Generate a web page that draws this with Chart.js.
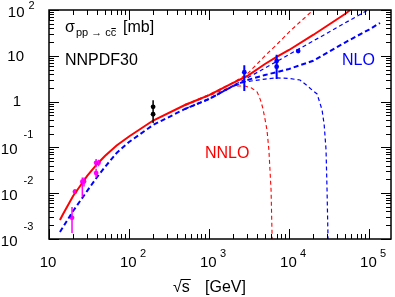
<!DOCTYPE html>
<html>
<head>
<meta charset="utf-8">
<script src="https://cdn.jsdelivr.net/npm/chart.js"></script>
<style>
body { margin: 0; background: #fff; }
canvas { display: block; }
</style>
</head>
<body>
<canvas id="chart" width="395" height="297"></canvas>
<script>
// NNLO central curve (solid red) and its scale band (thin red dashed)
var nnloX = [13.7, 15, 20, 25, 30, 40, 50, 70, 100, 200, 500, 1000, 2000, 3000, 5000, 7000, 10000, 20000, 50000, 58000, 70000];
var nnloY = [0.0026, 0.0035, 0.0087, 0.0151, 0.0238, 0.0435, 0.0649, 0.110, 0.173, 0.386, 0.843, 1.39, 2.55, 3.62, 6.62, 9.42, 13.4, 28.5, 81.8, 100, 123];
var nnloUpX = [500, 1000, 2000, 3000, 5000, 7000, 10000, 20000, 23000];
var nnloUpY = [0.86, 1.42, 2.6, 4.0, 10.0, 17.5, 33, 100, 128];
var nnloLoX = [500, 1000, 2000, 2800, 3400, 4000, 4400, 4700, 5000, 5300, 5600, 5960, 6150, 6300];
var nnloLoY = [0.82, 1.35, 2.2, 2.19, 1.98, 1.62, 1.08, 0.72, 0.42, 0.24, 0.088, 0.0117, 0.001, 0.0001];

// NLO central curve (thick blue dashed) and its scale band (thin blue dashed)
var nloX = [13.7, 20, 25, 30, 40, 50, 70, 100, 200, 500, 1000, 2000, 3000, 5000, 7000, 10000, 20000, 50000, 100000, 137000];
var nloY = [0.00142, 0.0041, 0.0071, 0.0112, 0.0226, 0.0373, 0.0755, 0.131, 0.309, 0.69, 1.14, 2.19, 2.96, 3.8, 4.4, 5.15, 7.8, 19.5, 37.5, 52];
var nloUpX = [500, 1000, 2000, 3000, 5000, 7000, 10000, 20000, 50000, 97000, 120000];
var nloUpY = [0.70, 1.16, 2.25, 3.27, 5.4, 7.5, 10.7, 21, 52, 100, 124];
var nloLoX = [500, 1000, 2000, 2800, 5000, 7000, 10000, 13700, 17000, 19400, 22400, 25850, 27500, 29000, 29850, 30700, 31500];
var nloLoY = [0.68, 1.12, 2.15, 2.7, 3.1, 3.3, 3.2, 2.96, 2.2, 1.79, 1.47, 0.66, 0.31, 0.088, 0.0117, 0.001, 0.0001];

// measurements: fixed target (magenta), RHIC (black), LHC (blue)
var magX = [19.4, 21.1, 26.1, 27.4, 38.8, 38.8, 41.6];
var magY = [0.0029, 0.0108, 0.0178, 0.018, 0.0275, 0.046, 0.046];
var magLo = [0.00135, 0.0097, 0.0084, 0.014, 0.022, 0.037, 0.039];
var magHi = [0.005, 0.0122, 0.022, 0.022, 0.034, 0.056, 0.054];
var rhicX = [200, 200];
var rhicY = [0.77, 0.53];
var rhicLo = [0.55, 0.34];
var rhicHi = [1.07, 0.72];
var lhcX = [2760, 7000, 7000, 13000];
var lhcY = [4.4, 7.7, 5.8, 12.7];
var lhcLo = [1.7, 5.6, 3.1, 11.8];
var lhcHi = [6.2, 10.5, 8.5, 13.7];

// axis ticks (decade exponents)
var xTickExp = [1, 2, 3, 4, 5];
var yTickExp = [2, 1, 0, -1, -2, -3];

var FONT = '"Liberation Sans", Arial, sans-serif';

function pts(xs, ys) {
	var out = [];
	for (var i = 0; i < xs.length; i++) {
		out.push({ x: xs[i], y: ys[i] });
	}
	return out;
}

function curve(xs, ys, color, width, dash) {
	return {
		type: 'line',
		data: pts(xs, ys),
		borderColor: color,
		borderWidth: width,
		borderDash: dash,
		pointRadius: 0,
		fill: false,
		tension: 0,
		clip: 0
	};
}

function dots(xs, ys, color) {
	return {
		type: 'scatter',
		data: pts(xs, ys),
		backgroundColor: color,
		borderColor: color,
		borderWidth: 0,
		pointRadius: 2.4,
		clip: 0
	};
}

var errSets = [
	{ x: magX, lo: magLo, hi: magHi, color: '#ff00ff', width: 1.5 },
	{ x: rhicX, lo: rhicLo, hi: rhicHi, color: '#000000', width: 1.5 },
	{ x: lhcX, lo: lhcLo, hi: lhcHi, color: '#0000ff', width: 2 }
];

function drawErrors(chart) {
	var ctx = chart.ctx, xs = chart.scales.x, ys = chart.scales.y;
	ctx.save();
	for (var s = 0; s < errSets.length; s++) {
		var e = errSets[s];
		ctx.strokeStyle = e.color;
		ctx.lineWidth = e.width;
		ctx.beginPath();
		for (var i = 0; i < e.x.length; i++) {
			var px = xs.getPixelForValue(e.x[i]);
			ctx.moveTo(px, ys.getPixelForValue(e.lo[i]));
			ctx.lineTo(px, ys.getPixelForValue(e.hi[i]));
		}
		ctx.stroke();
	}
	ctx.restore();
}

function drawFrame(chart) {
	var ctx = chart.ctx, a = chart.chartArea, xs = chart.scales.x, ys = chart.scales.y;
	ctx.save();
	ctx.strokeStyle = '#000';
	ctx.lineWidth = 1;
	ctx.beginPath();
	for (var d = 1; d <= 5; d++) {
		for (var k = 1; k < 10; k++) {
			var v = k * Math.pow(10, d);
			if (v > xs.max) continue;
			var px = Math.round(xs.getPixelForValue(v)) + 0.5;
			var len = k == 1 ? 10 : 5;
			ctx.moveTo(px, a.bottom);
			ctx.lineTo(px, a.bottom - len);
			ctx.moveTo(px, a.top);
			ctx.lineTo(px, a.top + len);
		}
	}
	for (var d = -3; d <= 2; d++) {
		for (var k = 1; k < 10; k++) {
			var v = k * Math.pow(10, d);
			if (v > ys.max * 1.001) continue;
			var py = Math.round(ys.getPixelForValue(v)) + 0.5;
			var len = k == 1 ? 10 : 5;
			ctx.moveTo(a.left, py);
			ctx.lineTo(a.left + len, py);
			ctx.moveTo(a.right, py);
			ctx.lineTo(a.right - len, py);
		}
	}
	ctx.stroke();
	ctx.lineWidth = 1.5;
	ctx.strokeRect(a.left, a.top, a.right - a.left, a.bottom - a.top);
	ctx.restore();
}

function drawLabels(chart) {
	var ctx = chart.ctx, xs = chart.scales.x, ys = chart.scales.y;
	ctx.save();
	ctx.fillStyle = '#000';
	ctx.textBaseline = 'middle';

	// x tick labels
	for (var i = 0; i < xTickExp.length; i++) {
		var e = xTickExp[i];
		var px = xs.getPixelForValue(Math.pow(10, e));
		ctx.font = '15px ' + FONT;
		if (e == 1) {
			ctx.textAlign = 'center';
			ctx.fillText('10', px - 1, 263);
		} else {
			ctx.textAlign = 'left';
			ctx.fillText('10', px - 9, 263);
			ctx.font = '11px ' + FONT;
			ctx.fillText(String(e), px + 11, 254);
		}
	}

	// y tick labels
	for (var i = 0; i < yTickExp.length; i++) {
		var e = yTickExp[i];
		var py = ys.getPixelForValue(Math.pow(10, e));
		ctx.font = '15px ' + FONT;
		ctx.textAlign = 'right';
		if (e == 0) {
			ctx.fillText('1', 21, py + 0.5);
		} else if (e == 1) {
			ctx.fillText('10', 24, py + 1.5);
		} else if (e > 1) {
			ctx.fillText('10', 24.5, py + 2.5);
			ctx.font = '11px ' + FONT;
			ctx.textAlign = 'left';
			ctx.fillText(String(e), 28.5, py - 4);
		} else {
			ctx.fillText('10', 17.5, py + 2.5);
			ctx.font = '11px ' + FONT;
			ctx.textAlign = 'left';
			ctx.fillText(String(e), 23.5, py - 12);
		}
	}

	// axis title and annotations
	ctx.textBaseline = 'alphabetic';
	ctx.textAlign = 'left';
	ctx.font = '16px ' + FONT;
	ctx.fillText('\u221As', 173, 292);
	var wr = ctx.measureText('\u221A').width;
	var ws = ctx.measureText('s').width;
	ctx.fillText('[GeV]', 205, 292);
	ctx.lineWidth = 1;
	ctx.strokeStyle = '#000';
	ctx.beginPath();
	ctx.moveTo(173 + wr - 1, 279.5);
	ctx.lineTo(173 + wr + ws + 1, 279.5);
	ctx.stroke();

	ctx.fillText('\u03C3', 65, 32);
	ctx.font = '11px ' + FONT;
	var sub = 'pp \u2192 cc';
	ctx.fillText(sub, 76, 36);
	var wsub = ctx.measureText(sub).width;
	var wc = ctx.measureText('c').width;
	ctx.beginPath();
	ctx.moveTo(76 + wsub - wc + 0.5, 28.5);
	ctx.lineTo(76 + wsub - 0.5, 28.5);
	ctx.stroke();
	ctx.font = '16px ' + FONT;
	ctx.fillText('[mb]', 123, 32);
	ctx.fillText('NNPDF30', 65, 65);

	ctx.fillStyle = '#0000ff';
	ctx.fillText('NLO', 342, 65);
	ctx.fillStyle = '#ff0000';
	ctx.fillText('NNLO', 205, 158);
	ctx.restore();
}

var deco = {
	id: 'deco',
	afterDatasetsDraw: function (chart) {
		drawErrors(chart);
	},
	afterDraw: function (chart) {
		drawFrame(chart);
		drawLabels(chart);
	}
};

var ctx = document.getElementById('chart').getContext('2d');
var chart = new Chart(ctx, {
	type: 'line',
	data: {
		datasets: [
			curve(nloUpX, nloUpY, '#0000ff', 1.2, [4, 3]),
			curve(nloLoX, nloLoY, '#0000ff', 1.2, [4, 3]),
			curve(nnloUpX, nnloUpY, '#ff0000', 1.1, [4, 3]),
			curve(nnloLoX, nnloLoY, '#ff0000', 1.1, [4, 3]),
			curve(nloX, nloY, '#0000ff', 2, [5, 3]),
			curve(nnloX, nnloY, '#ff0000', 2, []),
			dots(magX, magY, '#ff00ff'),
			dots(rhicX, rhicY, '#000000'),
			dots(lhcX, lhcY, '#0000ff')
		]
	},
	options: {
		responsive: false,
		animation: false,
		devicePixelRatio: 1,
		layout: { padding: { left: 49, right: 4, top: 10, bottom: 58 } },
		plugins: { legend: { display: false }, tooltip: { enabled: false } },
		scales: {
			x: { type: 'logarithmic', min: 10, max: 188000, display: false },
			y: { type: 'logarithmic', min: 0.001, max: 100, display: false }
		}
	},
	plugins: [deco]
});
</script>
</body>
</html>
